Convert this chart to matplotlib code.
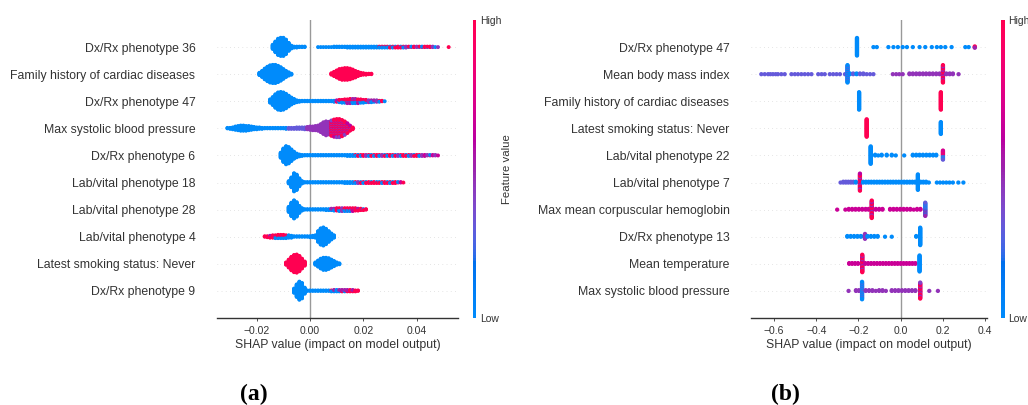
import numpy as np
import matplotlib
matplotlib.use("Agg")
import matplotlib.pyplot as plt
from matplotlib.colors import ListedColormap
from matplotlib.cm import ScalarMappable

plt.rcParams["font.family"] = ["Liberation Sans", "DejaVu Sans"]

W, H = 1028, 405

# ---------------------------------------------------------------- data
features_a = [
    "Dx/Rx phenotype 36",
    "Family history of cardiac diseases",
    "Dx/Rx phenotype 47",
    "Max systolic blood pressure",
    "Dx/Rx phenotype 6",
    "Lab/vital phenotype 18",
    "Lab/vital phenotype 28",
    "Lab/vital phenotype 4",
    "Latest smoking status: Never",
    "Dx/Rx phenotype 9",
]
features_b = [
    "Dx/Rx phenotype 47",
    "Mean body mass index",
    "Family history of cardiac diseases",
    "Latest smoking status: Never",
    "Lab/vital phenotype 22",
    "Lab/vital phenotype 7",
    "Max mean corpuscular hemoglobin",
    "Dx/Rx phenotype 13",
    "Mean temperature",
    "Max systolic blood pressure",
]

# Panel (a): SHAP values counted in 0.001-wide bins.
# segment = (centre of first bin, patients per bin, feature level per bin)
BIN_A = 0.001
dxrx36_a = [
    (-0.014, [10, 24, 36, 40, 40, 32, 18, 7, 3, 3, 2, 2, 2], "LLLLLLLLLLLLL"),
    (0.003, [1, 1, 1, 1, 1, 1, 2, 2, 2, 2, 2, 3, 3, 3, 3, 3, 3, 3, 3, 3, 3, 3, 3],
     "LLLLLLLLLLLLLLLLLLLLLLL"),
    (0.026, [3, 3, 3, 3, 3, 3, 3, 3, 3, 3, 3, 2, 2, 2, 2, 2, 2, 2, 2, 2, 2, 1, 1],
     "XXXXRXRHRXPXRHPXRHXHPXP"),
    (0.052, [1], "H"),
]
family_a = [
    (-0.019, [6, 14, 24, 32, 38, 40, 40, 36, 30, 22, 14, 8, 3], "LLLLLLLLLLLLL"),
    (0.008, [4, 10, 16, 22, 25, 26, 26, 24, 20, 15, 10, 6, 4, 3, 2, 2], "HHHHHHHHHHHHHHHH"),
]
dxrx47_a = [
    (-0.015, [8, 18, 30, 38, 40, 38, 32, 24, 16, 10, 5, 3], "LLLLLLLLLLLL"),
    (-0.003, [2, 2, 2, 2, 2, 2, 2, 2, 2, 2, 2, 2, 3], "LLLLLLLLLLLLL"),
    (0.010, [4, 6, 7, 8, 9, 10, 10, 10, 9, 8, 7, 6, 5, 5, 4, 4, 3, 2, 1],
     "RXXXRRXXRXXXPXXPXHL"),
]
sbp_a = [
    (-0.031, [2, 3, 5, 8, 10, 12, 12, 11, 10, 8, 6, 5, 4, 3], "LLLLLLLLLLLLLL"),
    (-0.017, [2, 2, 2, 2, 2, 2, 2, 2, 3, 3, 3, 3, 4, 4], "LLLLLLLLLBBBBB"),
    (-0.003, [4, 5, 6, 8, 9, 10, 12], "BBPPPPP"),
    (0.004, [18, 26, 31, 28], "PPPP"),
    (0.008, [34, 38, 40, 40, 36, 30, 22, 12, 5], "QQQQQQQQH"),
]
dxrx6_a = [
    (-0.011, [12, 30, 40, 36, 26, 16, 9, 5, 3], "LLLLLLLLL"),
    (-0.002, [2, 2, 2, 2, 2, 2, 2, 2, 2, 2, 2, 2, 2, 2, 2, 2, 3, 3, 3],
     "LLLLLLLLLLLLLLLLLLL"),
    (0.017, [3, 3, 3, 3, 3, 3, 3, 3, 3, 3, 3, 3, 3, 3, 3, 3, 3, 3, 3, 3, 3, 3, 3, 3,
             3, 3, 3, 2, 2, 2, 2, 1],
     "XRXHPXRXHXPRXHXRPXHRXPRHXPMPRMPM"),
]
lab18_a = [
    (-0.008, [6, 22, 40, 34, 18, 6], "LLLLLL"),
    (-0.002, [2, 2, 2, 2, 2, 2, 2, 2, 2, 2, 2, 2, 2, 2, 2, 3, 3, 3, 3],
     "LLLLLLLLLLLLLLLLLLL"),
    (0.017, [3, 3, 3, 3, 3, 3, 3, 3, 3, 3, 3, 3, 3, 3, 3, 3, 2, 2, 1],
     "XPRXRHRHRRXHRXRHRMR"),
]
lab28_a = [
    (-0.008, [12, 30, 40, 32, 16, 6], "LLLLLL"),
    (-0.002, [2, 2, 2, 2, 2, 2, 2, 2, 3, 3], "LLLLLLLLLL"),
    (0.008, [4, 5, 6, 7, 7, 7, 7, 7, 7, 6, 5, 4, 3, 2], "XXRXPXRRQRRHRH"),
]
lab4_a = [
    (-0.017, [2, 3, 5, 6, 7, 8, 8, 8, 7, 6, 5], "HHRQRRXXXLL"),
    (-0.006, [2, 2, 2, 2, 2, 2, 3, 4, 6, 24, 36, 40, 34, 24, 14, 6], "LLLLLLLLLLLLLLLL"),
]
smoking_a = [
    (-0.009, [6, 18, 30, 38, 40, 34, 22, 10], "HHHHHHHH"),
    (0.002, [6, 14, 22, 27, 27, 24, 18, 12, 6, 3], "LLLLLLLLLL"),
]
dxrx9_a = [
    (-0.006, [10, 28, 40, 34, 14], "LLLLL"),
    (-0.001, [2, 2, 2, 2, 2, 2, 2, 2, 2], "LLLLLLLLL"),
    (0.008, [3, 4, 4, 4, 4, 4, 4, 4, 4, 3, 2], "XXLXRXRHRHH"),
]
rows_a = [dxrx36_a, family_a, dxrx47_a, sbp_a, dxrx6_a,
          lab18_a, lab28_a, lab4_a, smoking_a, dxrx9_a]

# Panel (b): (SHAP value, patients, feature level)
dxrx47_b = [(-0.207, 28, "L"), (-0.129, 1, "L"), (-0.113, 1, "L"), (-0.058, 1, "L"),
            (-0.034, 1, "L"), (-0.013, 1, "L"), (0.010, 1, "L"), (0.030, 1, "L"),
            (0.058, 1, "L"), (0.090, 1, "L"), (0.117, 1, "L"), (0.148, 1, "L"),
            (0.172, 1, "L"), (0.191, 1, "L"), (0.212, 1, "L"), (0.242, 1, "L"),
            (0.307, 1, "L"), (0.323, 1, "L"), (0.352, 3, "Y")]
bmi_b = [(-0.661, 1, "B"), (-0.645, 1, "B"), (-0.629, 1, "B"), (-0.618, 1, "B"),
         (-0.606, 1, "B"), (-0.593, 1, "B"), (-0.582, 1, "B"), (-0.566, 1, "B"),
         (-0.550, 1, "B"), (-0.518, 1, "B"), (-0.502, 1, "B"), (-0.487, 1, "B"),
         (-0.471, 1, "B"), (-0.455, 1, "B"), (-0.439, 1, "B"), (-0.423, 1, "B"),
         (-0.391, 1, "B"), (-0.375, 1, "B"), (-0.360, 1, "B"), (-0.336, 1, "B"),
         (-0.320, 1, "B"), (-0.304, 1, "B"), (-0.288, 1, "B"), (-0.264, 1, "B"),
         (-0.252, 26, "U"), (-0.240, 2, "U"), (-0.225, 2, "B"), (-0.209, 2, "U"),
         (-0.193, 2, "B"), (-0.177, 2, "B"), (-0.161, 1, "B"), (-0.145, 1, "B"),
         (-0.129, 1, "B"), (-0.037, 1, "P"), (-0.021, 1, "P"), (-0.006, 1, "P"),
         (0.010, 1, "P"), (0.042, 2, "P"), (0.058, 2, "P"), (0.074, 2, "P"),
         (0.090, 2, "P"), (0.106, 2, "P"), (0.121, 2, "P"), (0.137, 2, "P"),
         (0.153, 2, "P"), (0.169, 2, "P"), (0.185, 2, "P"), (0.201, 26, "Q"),
         (0.217, 2, "P"), (0.233, 2, "P"), (0.248, 2, "P"), (0.275, 1, "P")]
family_b = [(-0.197, 26, "L"), (0.191, 26, "H")]
smoking_b = [(-0.161, 26, "H"), (0.191, 18, "L")]
lab22_b = [(-0.142, 26, "L"), (-0.121, 2, "L"), (-0.106, 1, "L"), (-0.090, 2, "L"),
           (-0.066, 2, "L"), (-0.042, 2, "L"), (-0.023, 1, "L"), (0.017, 1, "L"),
           (0.058, 2, "L"), (0.074, 2, "L"), (0.090, 2, "L"), (0.106, 2, "L"),
           (0.122, 2, "L"), (0.138, 2, "L"), (0.154, 2, "L"), (0.169, 2, "L"),
           (0.201, 14, "W")]
lab7_b = [(-0.285, 1, "B"), (-0.272, 2, "B"), (-0.260, 2, "B"), (-0.248, 2, "B"),
          (-0.236, 2, "B"), (-0.224, 2, "B"), (-0.212, 2, "U"), (-0.193, 22, "Q"),
          (-0.178, 2, "L"), (-0.165, 2, "L"), (-0.152, 2, "L"), (-0.139, 2, "L"),
          (-0.126, 2, "L"), (-0.113, 2, "L"), (-0.100, 2, "L"), (-0.087, 2, "L"),
          (-0.074, 2, "L"), (-0.061, 2, "L"), (-0.048, 2, "L"), (-0.035, 2, "L"),
          (-0.022, 2, "L"), (-0.009, 2, "L"), (0.004, 2, "L"), (0.017, 2, "L"),
          (0.030, 2, "L"), (0.043, 2, "L"), (0.056, 2, "L"), (0.069, 2, "L"),
          (0.082, 20, "L"), (0.095, 2, "L"), (0.108, 2, "L"), (0.121, 2, "L"),
          (0.134, 1, "L"), (0.172, 1, "L"), (0.187, 1, "L"), (0.202, 1, "L"),
          (0.217, 1, "L"), (0.232, 1, "L"), (0.248, 1, "L"), (0.274, 1, "L"),
          (0.298, 1, "L")]
mch_b = [(-0.301, 1, "M"), (-0.262, 1, "M"), (-0.246, 2, "M"), (-0.230, 2, "M"),
         (-0.214, 2, "M"), (-0.198, 2, "M"), (-0.182, 2, "M"), (-0.166, 2, "M"),
         (-0.152, 2, "M"), (-0.137, 26, "Q"), (-0.118, 2, "M"), (-0.102, 2, "M"),
         (-0.086, 2, "M"), (-0.050, 2, "M"), (-0.034, 2, "M"), (-0.018, 2, "M"),
         (-0.002, 2, "M"), (0.014, 2, "M"), (0.030, 2, "M"), (0.046, 2, "M"),
         (0.062, 1, "M"), (0.078, 2, "M"), (0.094, 2, "M"), (0.117, 20, "V")]
dxrx13_b = [(-0.253, 2, "L"), (-0.237, 2, "L"), (-0.221, 2, "L"), (-0.205, 2, "L"),
            (-0.189, 2, "L"), (-0.173, 2, "L"), (-0.169, 8, "P"), (-0.157, 2, "L"),
            (-0.141, 2, "L"), (-0.125, 2, "L"), (-0.109, 2, "L"), (-0.074, 1, "L"),
            (-0.042, 1, "L"), (0.074, 2, "L"), (0.093, 26, "L")]
temp_b = [(-0.244, 2, "M"), (-0.230, 2, "M"), (-0.216, 2, "M"), (-0.202, 2, "M"),
          (-0.182, 26, "Q"), (-0.168, 2, "M"), (-0.154, 2, "M"), (-0.140, 2, "M"),
          (-0.126, 2, "M"), (-0.112, 2, "M"), (-0.098, 2, "M"), (-0.084, 2, "M"),
          (-0.070, 2, "M"), (-0.056, 2, "M"), (-0.042, 2, "M"), (-0.028, 2, "M"),
          (-0.014, 2, "M"), (0.000, 2, "M"), (0.014, 2, "M"), (0.028, 2, "M"),
          (0.042, 2, "M"), (0.056, 2, "M"), (0.070, 2, "M"), (0.090, 24, "L")]
sbp_b = [(-0.247, 1, "P"), (-0.212, 2, "P"), (-0.198, 2, "P"), (-0.183, 26, "U"),
         (-0.166, 2, "P"), (-0.150, 2, "P"), (-0.134, 2, "P"), (-0.118, 1, "P"),
         (-0.102, 2, "P"), (-0.086, 2, "P"), (-0.070, 1, "P"), (-0.042, 2, "P"),
         (-0.026, 2, "P"), (-0.010, 2, "P"), (0.006, 2, "P"), (0.022, 2, "P"),
         (0.038, 2, "P"), (0.054, 2, "P"), (0.070, 2, "P"), (0.093, 24, "Q"),
         (0.136, 1, "P"), (0.177, 1, "P")]
rows_b = [dxrx47_b, bmi_b, family_b, smoking_b, lab22_b,
          lab7_b, mch_b, dxrx13_b, temp_b, sbp_b]

# normalised feature values cycled through the stacked points of one bin
FEATURE_LEVELS = {
    "L": [0.0], "B": [0.3], "P": [0.45], "M": [0.65], "H": [1.0],
    "U": [0.0, 0.0, 0.3],
    "V": [0.2, 0.0, 0.5, 0.3],
    "W": [0.3, 0.7, 0.0, 0.9],
    "X": [0.0, 1.0, 0.0, 0.5, 0.0, 1.0],
    "R": [1.0, 0.0, 1.0, 0.55, 1.0],
    "Q": [1.0, 0.6, 1.0, 0.4, 1.0],
    "Y": [0.5, 1.0, 0.5],
}


# --------------------------------------------------------- colour map
def lch_to_rgb(l, c, h):
    a, b = c * np.cos(h), c * np.sin(h)
    fy = (l + 16.0) / 116.0
    fx, fz = fy + a / 500.0, fy - b / 200.0

    def finv(t):
        return t ** 3 if t ** 3 > 0.008856 else (t - 16.0 / 116.0) / 7.787

    x, y, z = 0.95047 * finv(fx), finv(fy), 1.08883 * finv(fz)
    rgb = np.array([3.2406 * x - 1.5372 * y - 0.4986 * z,
                    -0.9689 * x + 1.8758 * y + 0.0415 * z,
                    0.0557 * x - 0.2040 * y + 1.0570 * z])
    rgb = np.where(rgb > 0.0031308, 1.055 * np.abs(rgb) ** (1 / 2.4) - 0.055, 12.92 * rgb)
    return np.clip(rgb, 0, 1)


def red_blue_cmap(nsteps=100):
    blue, red, l_mid = (54.0, 70.0, 4.6588), (54.0, 90.0, 0.35470565 + 2 * np.pi), 40.0
    ls = list(np.linspace(blue[0], l_mid, nsteps // 2)) + list(np.linspace(l_mid, red[0], nsteps // 2))
    cs = np.linspace(blue[1], red[1], nsteps)
    hs = np.linspace(blue[2], red[2], nsteps)
    return ListedColormap([lch_to_rgb(l, c, h) for l, c, h in zip(ls, cs, hs)])


CMAP = red_blue_cmap()

LABEL_FS = 8.8
TICK_FS = 7.5


# ------------------------------------------------------------ drawing
def bins_to_columns(segments, step):
    cols = []
    for start, counts, levels in segments:
        for k, (n, lv) in enumerate(zip(counts, levels)):
            if n:
                cols.append((start + k * step, n, lv))
    return cols


def draw_swarm(ax, rows, size):
    n_rows = len(rows)
    for i, cols in enumerate(rows):
        pos = n_rows - 1 - i
        ax.axhline(pos, color="#cccccc", lw=0.5, dashes=(1, 5), zorder=-1)
        xs, layers, vals = [], [], []
        for x, n, lv in cols:
            cyc = FEATURE_LEVELS[lv]
            for layer in range(n):
                xs.append(x)
                layers.append(np.ceil(layer / 2) * ((layer % 2) * 2 - 1))
                vals.append(cyc[layer % len(cyc)])
        layers = np.asarray(layers, float)
        ys = pos + layers * 0.9 * 0.4 / np.max(layers + 1)
        ax.scatter(xs, ys, c=vals, cmap=CMAP, vmin=0, vmax=1, s=size,
                   linewidths=0, zorder=3)


def style_axes(ax, features, xlim, xticks):
    ax.set_xlim(*xlim)
    ax.set_ylim(-1, len(features))
    ax.set_yticks(range(len(features)))
    ax.set_yticklabels(features[::-1], fontsize=LABEL_FS)
    ax.axvline(0, color="#999999", lw=1.0, zorder=-1)
    for s in ("top", "right", "left"):
        ax.spines[s].set_visible(False)
    ax.spines["bottom"].set_color("#333333")
    ax.spines["bottom"].set_linewidth(1.0)
    ax.tick_params(axis="y", length=0, pad=15.5, labelcolor="#333333")
    ax.set_xticks(xticks)
    ax.tick_params(axis="x", labelsize=TICK_FS, color="#333333", labelcolor="#333333",
                   length=2.4, width=0.6, pad=3.2)
    ax.set_xlabel("SHAP value (impact on model output)", fontsize=LABEL_FS,
                  color="#333333", labelpad=2.5)


def add_colorbar(fig, x0, x1, with_label):
    cax = fig.add_axes([x0 / W, 1 - 318 / H, (x1 - x0) / W, 298.5 / H])
    cb = fig.colorbar(ScalarMappable(cmap=CMAP, norm=plt.Normalize(0, 1)), cax=cax)
    cb.set_ticks([0, 1])
    cb.set_ticklabels(["Low", "High"])
    cb.outline.set_visible(False)
    cb.ax.tick_params(labelsize=TICK_FS, length=0, pad=2.5, labelcolor="#333333")
    if with_label:
        fig.text(507 / W, 1 - 169 / H, "Feature value", rotation=90,
                 ha="center", va="center", fontsize=8.2, color="#333333")


fig = plt.figure(figsize=(W / 100, H / 100), dpi=100)

ax_a = fig.add_axes([217 / W, 1 - 318 / H, (458 - 217) / W, 298 / H])
draw_swarm(ax_a, [bins_to_columns(r, BIN_A) for r in rows_a], size=8)
style_axes(ax_a, features_a, (-0.0349, 0.0555), [-0.02, 0.0, 0.02, 0.04])
add_colorbar(fig, 472.5, 476.5, True)

ax_b = fig.add_axes([751 / W, 1 - 318 / H, (987 - 751) / W, 298 / H])
draw_swarm(ax_b, rows_b, size=9.5)
style_axes(ax_b, features_b, (-0.71, 0.41), [-0.6, -0.4, -0.2, 0.0, 0.2, 0.4])
add_colorbar(fig, 1001, 1005, False)

for x, tag in ((254, "(a)"), (785.5, "(b)")):
    fig.text(x / W, 1 - 394 / H, tag, ha="center", va="center", fontsize=17,
             fontweight="bold", family=["Liberation Serif", "DejaVu Serif"])

fig.savefig("out.png", dpi=100)
